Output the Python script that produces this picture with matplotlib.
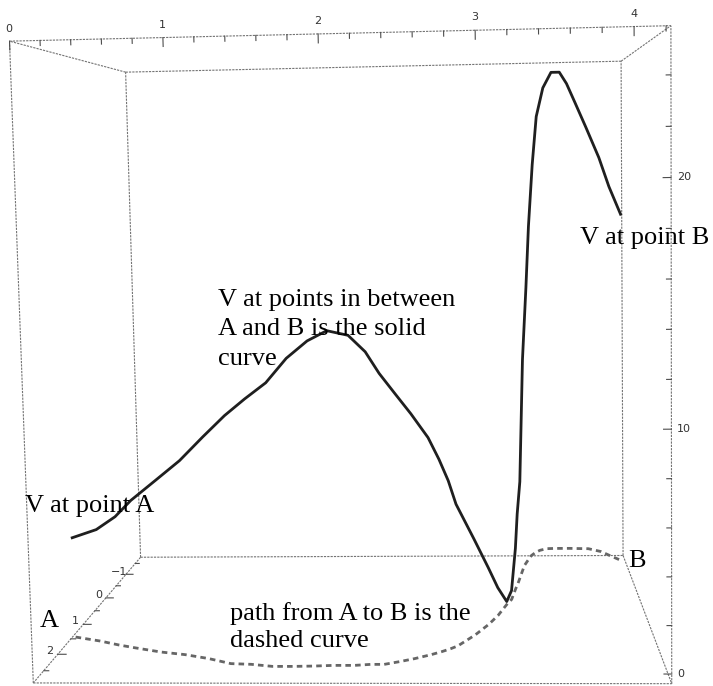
import numpy as np
import matplotlib
matplotlib.use('Agg')
import matplotlib.pyplot as plt
from mpl_toolkits.mplot3d import proj3d

# path from A to B in the (x, y) plane and the potential V along it
path_x = [0.08, 0.28, 0.44, 0.57, 0.77, 0.95, 1.13, 1.30, 1.44, 1.59, 1.73,
          1.87, 2.00, 2.14, 2.25, 2.34, 2.44, 2.54, 2.65, 2.72, 2.78, 2.83,
          2.95, 3.05, 3.12, 3.19, 3.23, 3.27, 3.29, 3.32, 3.36, 3.40, 3.43,
          3.47, 3.51, 3.57, 3.64, 3.71, 3.77, 3.84, 3.93, 4.03, 4.10, 4.18]
path_y = [1.73, 1.86, 1.99, 2.08, 2.21, 2.29, 2.41, 2.56, 2.58, 2.64, 2.64,
          2.63, 2.61, 2.61, 2.58, 2.58, 2.50, 2.41, 2.29, 2.20, 2.11, 2.02,
          1.67, 1.31, 1.00, 0.60, 0.41, -0.02, -0.21, -0.55, -1.00, -1.27,
          -1.46, -1.61, -1.71, -1.79, -1.80, -1.80, -1.80, -1.79, -1.78,
          -1.64, -1.43, -1.20]
V = [4.5, 5.0, 5.7, 6.5, 7.5, 8.4, 9.5, 10.5, 11.2, 11.9, 12.9,
     13.6, 14.0, 13.8, 13.1, 12.2, 11.3, 10.4, 9.3, 8.3, 7.3, 6.2,
     4.3, 2.6, 1.3, 0.14, 0.43, 2.0, 3.5, 4.8, 10.7, 14.3, 17.4,
     20.6, 23.1, 24.6, 25.4, 25.4, 24.8, 23.8, 22.5, 20.9, 19.4, 18.0]

x_lim = (0, 4.23)
y_lim = (-1.8, 2.85)
z_lim = (-0.4, 25.9)
x_ticks = [0, 1, 2, 3, 4]
y_ticks = [-1, 0, 1, 2]
z_ticks = [0, 10, 20]

W, H = 713, 686
fig = plt.figure(figsize=(W / 100, H / 100), dpi=100)
fig.patch.set_facecolor('white')
ax = fig.add_axes([9.0 / W, -2.3 / H, 686 / W, 1.0], projection='3d',
                  computed_zorder=False)
ax.set_proj_type('persp', focal_length=0.472)
ax.view_init(elev=5.5, azim=-86.2, roll=1.05)
ax.set_box_aspect((1.508, 1.348, 1.513), zoom=1.3254)
ax.set_xlim(*x_lim)
ax.set_ylim(y_lim[1], y_lim[0])   # y grows toward the viewer
ax.set_zlim(*z_lim)
ax.set_xticks([])
ax.set_yticks([])
ax.set_zticks([])
ax.set_axis_off()

x0, x1 = x_lim
y0, y1 = y_lim
z0, z1 = z_lim

# bounding box
box_kw = dict(color='0.45', lw=0.8, ls=(0, (2, 1)))
for y in (y0, y1):
    for z in (z0, z1):
        ax.plot([x0, x1], [y, y], [z, z], **box_kw)
for x in (x0, x1):
    for z in (z0, z1):
        ax.plot([x, x], [y0, y1], [z, z], **box_kw)
for x in (x0, x1):
    for y in (y0, y1):
        ax.plot([x, x], [y, y], [z0, z1], **box_kw)

tick_kw = dict(color='0.3', lw=0.8)
lab_kw = dict(fontsize=8, color='0.2', family='DejaVu Sans')
M = ax.get_proj()


def tick_label(x, y, z, s, **kw):
    # place a flat label at the projected position of a 3D point
    u, v, _ = proj3d.proj_transform(x, y, z, M)
    ax.text2D(u, v, s, transform=ax.transData, va='center', **lab_kw, **kw)


# x ticks along the front top edge
for xt in np.arange(0, 4.21, 0.2):
    ln = 0.35 if abs(xt - round(xt)) < 1e-6 else 0.2
    ax.plot([xt, xt], [y1, y1], [z1, z1 - ln], **tick_kw)
for xt in x_ticks:
    tick_label(xt, y1, z1 + 0.5, str(xt), ha='center')

# V ticks along the front right edge
for zt in np.arange(0, 25, 2):
    ln = 0.05 if zt % 10 == 0 else 0.03
    ax.plot([x1, x1 - ln], [y1, y1], [zt, zt], **tick_kw)
for zt in z_ticks:
    tick_label(x1 + 0.035, y1, zt, str(zt), ha='left')

# y ticks along the left bottom edge
for yt in np.arange(-1.5, 2.6, 0.5):
    ln = 0.06 if abs(yt - round(yt)) < 1e-6 else 0.035
    ax.plot([x0, x0 + ln], [yt, yt], [z0, z0], **tick_kw)
for yt in y_ticks:
    tick_label(x0 - 0.06, yt, z0 + 0.15, str(yt).replace('-', '\u2212'),
               ha='center')

# path in the plane (dashed) and V along the path (solid)
ax.plot(path_x, path_y, np.zeros(len(path_x)), color='0.4', lw=2.0,
        ls=(0, (2, 1.5)))
ax.plot(path_x, path_y, V, color='0.12', lw=2.0)


def note(px, py, s):
    fig.text(px / W, 1 - py / H, s, fontsize=19, family='Liberation Serif',
             ha='left', va='baseline', color='black')


note(218, 306, 'V at points in between')
note(218, 335, 'A and B is the solid')
note(218, 365, 'curve')
note(25, 512, 'V at point A')
note(580, 244, 'V at point B')
note(40, 627, 'A')
note(628, 567, 'B')
note(230, 620, 'path from A to B is the')
note(230, 647, 'dashed curve')

fig.savefig('out.png', dpi=100, facecolor='white')
